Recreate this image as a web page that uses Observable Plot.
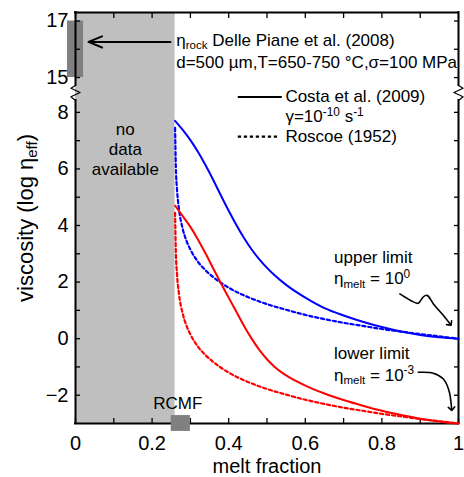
<!DOCTYPE html>
<html>
<head>
<meta charset="utf-8">
<script src="https://cdn.jsdelivr.net/npm/d3@7"></script>
<script src="https://cdn.jsdelivr.net/npm/@observablehq/plot@0.6"></script>
<style>
html, body { margin: 0; padding: 0; background: #fff; }
#chart svg { overflow: visible; }
</style>
</head>
<body>
<div id="chart"></div>
<script>
// ---- data ----
const costaX     = [0.26, 0.28, 0.30, 0.32, 0.34, 0.36, 0.38, 0.40, 0.42, 0.44, 0.46, 0.48, 0.50, 0.52, 0.55, 0.60, 0.65, 0.70, 0.75, 0.80, 0.85, 0.90, 0.95, 1.00];
const costaUpper = [7.70, 7.38, 7.02, 6.60, 6.12, 5.60, 5.05, 4.52, 4.02, 3.56, 3.15, 2.80, 2.50, 2.24, 1.90, 1.45, 1.08, 0.82, 0.60, 0.41, 0.25, 0.13, 0.05, 0.00];
const costaLower = [4.70, 4.33, 3.95, 3.50, 3.00, 2.47, 1.95, 1.45, 0.95, 0.45, 0.00, -0.40, -0.73, -1.00, -1.30, -1.66, -1.94, -2.17, -2.37, -2.55, -2.70, -2.83, -2.93, -3.00];
const roscoeX     = [0.26, 0.262, 0.265, 0.27, 0.28, 0.29, 0.30, 0.32, 0.34, 0.36, 0.38, 0.40, 0.45, 0.50, 0.55, 0.60, 0.65, 0.70, 0.75, 0.80, 0.85, 0.90, 0.95, 1.00];
const roscoeUpper = [7.45, 6.08, 5.28, 4.60, 3.88, 3.45, 3.15, 2.71, 2.41, 2.17, 1.97, 1.80, 1.47, 1.22, 1.02, 0.84, 0.69, 0.56, 0.45, 0.34, 0.25, 0.16, 0.08, 0.00];
const roscoeLower = [4.45, 3.08, 2.28, 1.60, 0.88, 0.45, 0.15, -0.29, -0.59, -0.83, -1.03, -1.20, -1.53, -1.78, -1.98, -2.16, -2.31, -2.44, -2.55, -2.66, -2.75, -2.84, -2.92, -3.00];

const noDataRange = [0, 0.26];      // melt fraction without data
const rockRange   = [15, 17];       // log eta_rock, Delle Piane et al. (2008)
const rockValue   = 16;
const rcmfRange   = [0.25, 0.30];

const xMajor = [0, 0.2, 0.4, 0.6, 0.8, 1];
const xMinor = [0, 0.1, 0.2, 0.3, 0.4, 0.5, 0.6, 0.7, 0.8, 0.9, 1];
const yMajor = [-2, 0, 2, 4, 6, 8, 15, 17];
const yMinor = [-2, -1, 0, 1, 2, 3, 4, 5, 6, 7, 8, 15, 16, 17];
const yDomainReal = [-3, 17.3];

// ---- broken y axis: values above the break are shifted down ----
const GAP = 5.77;
const brk = v => (v >= 12 ? v - GAP : v);
const yBottom = brk(yDomainReal[0]);
const yTop = brk(yDomainReal[1]);
const breakLo = 8.42, breakHi = 8.95;

const fmtY = v => (v < 0 ? "\u2212" + Math.abs(v) : String(v));
const yTickMap = new Map(yMajor.map(v => [brk(v), fmtY(v)]));

const toRows = (xs, ys) => xs.map((x, i) => ({x, y: brk(ys[i])}));

const zigLeft  = [[0, breakHi], [-0.012, 8.85], [0.012, 8.70], [-0.012, 8.55], [0, breakLo]];
const zigRight = [[1, breakHi], [1.012, 8.85], [0.988, 8.70], [1.012, 8.55], [1, breakLo]];
const upperArrow = [[0.847, 1.58], [0.874, 1.36], [0.895, 1.25], [0.908, 1.48], [0.918, 1.53], [0.935, 1.22], [0.958, 0.86], [0.978, 0.52]];
const lowerArrow = [[0.895, -1.19], [0.934, -1.22], [0.960, -1.42], [0.975, -1.83], [0.982, -2.48]];

const FONT = "'Liberation Sans', Arial, Helvetica, sans-serif";
const ANN = 17;
const black = "#000";

const marks = [
  // no-data shading
  Plot.rect([noDataRange], {x1: d => d[0], x2: d => d[1], y1: yBottom, y2: yTop, fill: "#bfbfbf"}),
  // eta_rock bar on the axis
  Plot.rect([rockRange], {x1: -0.021, x2: 0.021, y1: d => brk(d[0]), y2: d => brk(d[1]), fill: "#808080"}),

  // ticks (inward)
  Plot.axisX(xMinor, {anchor: "bottom", tickSize: -5, tickFormat: () => "", strokeWidth: 1.3, label: null}),
  Plot.axisX(xMinor, {anchor: "top", tickSize: -5, tickFormat: () => "", strokeWidth: 1.3, label: null}),
  Plot.axisY(yMinor.map(brk), {anchor: "left", tickSize: -5, tickFormat: () => "", strokeWidth: 1.3, label: null}),
  Plot.axisY(yMinor.map(brk), {anchor: "right", tickSize: -5, tickFormat: () => "", strokeWidth: 1.3, label: null}),
  // tick labels
  Plot.axisX(xMajor, {anchor: "bottom", tickSize: 0, tickPadding: 12, tickFormat: d => String(d), fontSize: 20, label: null}),
  Plot.axisY(yMajor.map(brk), {anchor: "left", tickSize: 0, tickPadding: 7, tickFormat: d => yTickMap.get(d), fontSize: 20, label: null}),

  // frame with breaks
  Plot.ruleY([yBottom, yTop], {x1: 0, x2: 1, stroke: black, strokeWidth: 2, strokeLinecap: "square"}),
  Plot.ruleX([0, 1], {y1: yBottom, y2: breakLo, stroke: black, strokeWidth: 2, strokeLinecap: "square"}),
  Plot.ruleX([0, 1], {y1: breakHi, y2: yTop, stroke: black, strokeWidth: 2, strokeLinecap: "square"}),
  Plot.line(zigLeft, {x: d => d[0], y: d => d[1], stroke: black, strokeWidth: 1.2}),
  Plot.line(zigRight, {x: d => d[0], y: d => d[1], stroke: black, strokeWidth: 1.2}),

  // curves
  Plot.line(toRows(roscoeX, roscoeUpper), {x: "x", y: "y", stroke: "#0000ff", strokeWidth: 2.2, strokeDasharray: "3.3,2.7", curve: "monotone-x"}),
  Plot.line(toRows(roscoeX, roscoeLower), {x: "x", y: "y", stroke: "#ff0000", strokeWidth: 2.2, strokeDasharray: "3.3,2.7", curve: "monotone-x"}),
  Plot.line(toRows(costaX, costaUpper), {x: "x", y: "y", stroke: "#0000ff", strokeWidth: 2, curve: "monotone-x"}),
  Plot.line(toRows(costaX, costaLower), {x: "x", y: "y", stroke: "#ff0000", strokeWidth: 2, curve: "monotone-x"}),

  // RCMF marker
  Plot.rect([rcmfRange], {x1: d => d[0], x2: d => d[1], y1: -3.28, y2: -2.72, fill: "#808080"}),
  Plot.text(["RCMF"], {x: 0.267, y: -2.28, text: d => d, fontSize: ANN, lineAnchor: "middle"}),

  // eta_rock annotation
  Plot.arrow([rockValue], {x1: 0.248, x2: 0.034, y1: d => brk(d) + 0.26, y2: d => brk(d) + 0.26, stroke: black, strokeWidth: 2, headLength: 11, headAngle: 45}),
  Plot.text(["η_{rock} Delle Piane et al. (2008)"], {x: 0.263, y: 10.55, text: d => d, textAnchor: "start", lineAnchor: "middle", fontSize: ANN}),
  Plot.text(["d=500 µm,T=650-750 °C,σ=100 MPa"], {x: 0.263, y: 9.76, text: d => d, textAnchor: "start", lineAnchor: "middle", fontSize: ANN}),

  // legend
  Plot.ruleY([8.54], {x1: 0.425, x2: 0.540, stroke: black, strokeWidth: 2}),
  Plot.ruleY([7.14], {x1: 0.425, x2: 0.532, stroke: black, strokeWidth: 2.2, strokeDasharray: "3.3,2.7"}),
  Plot.text(["Costa et al. (2009)"], {x: 0.548, y: 8.56, text: d => d, textAnchor: "start", lineAnchor: "middle", fontSize: ANN}),
  Plot.text(["γ=10^{-10} s^{-1}"], {x: 0.548, y: 7.84, text: d => d, textAnchor: "start", lineAnchor: "middle", fontSize: ANN}),
  Plot.text(["Roscoe (1952)"], {x: 0.548, y: 7.15, text: d => d, textAnchor: "start", lineAnchor: "middle", fontSize: ANN}),

  // no data
  Plot.text(["no\ndata\navailable"], {x: 0.13, y: 6.72, text: d => d, lineAnchor: "middle", lineHeight: 1.2, fontSize: ANN}),

  // limits
  Plot.text(["upper limit"], {x: 0.675, y: 2.88, text: d => d, textAnchor: "start", lineAnchor: "middle", fontSize: ANN}),
  Plot.text(["η_{melt} = 10^{0}"], {x: 0.675, y: 2.12, text: d => d, textAnchor: "start", lineAnchor: "middle", fontSize: ANN}),
  Plot.text(["lower limit"], {x: 0.675, y: -0.54, text: d => d, textAnchor: "start", lineAnchor: "middle", fontSize: ANN}),
  Plot.text(["η_{melt} = 10^{-3}"], {x: 0.675, y: -1.30, text: d => d, textAnchor: "start", lineAnchor: "middle", fontSize: ANN}),
  Plot.line(upperArrow, {x: d => d[0], y: d => d[1], stroke: black, strokeWidth: 1.6, curve: "catmull-rom", markerEnd: "arrow"}),
  Plot.line(lowerArrow, {x: d => d[0], y: d => d[1], stroke: black, strokeWidth: 1.6, curve: "catmull-rom", markerEnd: "arrow"}),

  // axis titles
  Plot.text(["melt fraction"], {frameAnchor: "bottom", dy: 43, text: d => d, textAnchor: "middle", lineAnchor: "middle", fontSize: 20}),
  Plot.text(["viscosity (log η_{eff})"], {frameAnchor: "left", dx: -50, rotate: -90, text: d => d, textAnchor: "middle", lineAnchor: "middle", fontSize: 22})
];

const svg = Plot.plot({
  width: 464,
  height: 477,
  marginLeft: 75,
  marginRight: 6,
  marginTop: 12,
  marginBottom: 54,
  x: {domain: [0, 1]},
  y: {domain: [yBottom, yTop]},
  style: {fontFamily: FONT, fontSize: "17px", background: "#fff", color: "#000"},
  marks
});

document.getElementById("chart").appendChild(svg);

// sub/superscripts written as _{..} and ^{..}
function richify(root) {
  root.querySelectorAll("text").forEach(t => {
    const s = t.textContent;
    if (!/[_^]\{/.test(s) || t.querySelector("tspan")) return;
    const fs = parseFloat(getComputedStyle(t).fontSize) || 17;
    t.textContent = "";
    let shift = 0;
    for (const p of s.split(/([_^]\{[^}]*\})/)) {
      if (!p) continue;
      const ts = document.createElementNS("http://www.w3.org/2000/svg", "tspan");
      let target = 0, txt = p;
      if (p[0] === "_" && p[1] === "{") { target = 0.2 * fs; txt = p.slice(2, -1); ts.setAttribute("font-size", (0.68 * fs) + "px"); }
      else if (p[0] === "^" && p[1] === "{") { target = -0.38 * fs; txt = p.slice(2, -1); ts.setAttribute("font-size", (0.7 * fs) + "px"); }
      if (target !== shift) ts.setAttribute("dy", String(target - shift));
      shift = target;
      ts.textContent = txt;
      t.appendChild(ts);
    }
  });
}
richify(svg);
</script>
</body>
</html>
